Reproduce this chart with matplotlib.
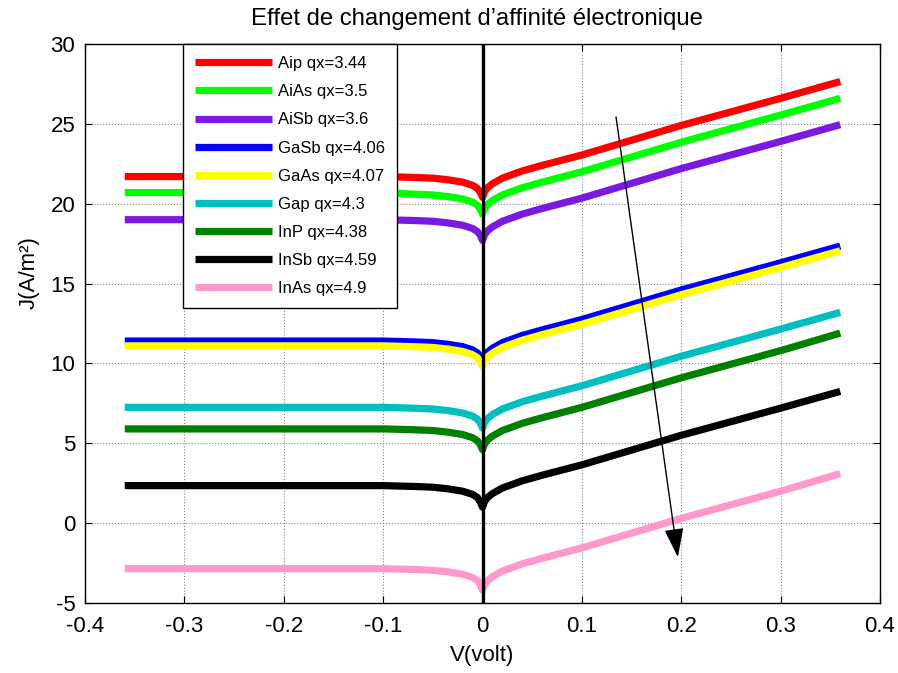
import matplotlib
matplotlib.use("Agg")
import matplotlib.pyplot as plt

plt.rcParams['font.family'] = ['Liberation Sans', 'DejaVu Sans']
plt.rcParams['axes.unicode_minus'] = False

# Voltage sample points (V)
V = [-0.36, -0.1, -0.07, -0.05, -0.035, -0.02, -0.01, -0.005, -0.002, 0.0,
     0.002, 0.005, 0.01, 0.02, 0.04, 0.06, 0.1, 0.2, 0.3, 0.36]

# Current density J (A/m²) per material
J_AlP  = [21.7, 21.7, 21.65, 21.6, 21.5, 21.35, 21.15, 20.95, 20.7, 20.4,
          20.75, 21.0, 21.25, 21.6, 22.05, 22.4, 23.05, 24.9, 26.6, 27.65]
J_AlAs = [20.7, 20.7, 20.6, 20.55, 20.45, 20.3, 20.1, 19.9, 19.65, 19.35,
          19.7, 19.95, 20.2, 20.55, 21.0, 21.35, 22.0, 23.85, 25.55, 26.6]
J_AlSb = [19.0, 19.0, 18.95, 18.9, 18.8, 18.65, 18.45, 18.25, 18.0, 17.7,
          18.05, 18.3, 18.55, 18.9, 19.35, 19.7, 20.35, 22.2, 23.9, 24.95]
J_GaSb = [11.4, 11.4, 11.35, 11.3, 11.2, 11.05, 10.85, 10.65, 10.4, 10.1,
          10.45, 10.7, 10.95, 11.3, 11.75, 12.1, 12.75, 14.6, 16.3, 17.35]
J_GaAs = [11.1, 11.1, 11.05, 11.0, 10.9, 10.75, 10.55, 10.35, 10.1, 9.8,
          10.15, 10.4, 10.65, 11.0, 11.45, 11.8, 12.45, 14.3, 16.0, 17.05]
J_GaP  = [7.25, 7.25, 7.2, 7.15, 7.05, 6.9, 6.7, 6.5, 6.25, 5.95,
          6.3, 6.55, 6.8, 7.15, 7.6, 7.95, 8.6, 10.45, 12.15, 13.2]
J_InP  = [5.9, 5.9, 5.85, 5.8, 5.7, 5.55, 5.35, 5.15, 4.9, 4.6,
          4.95, 5.2, 5.45, 5.8, 6.25, 6.6, 7.25, 9.1, 10.8, 11.9]
J_InSb = [2.35, 2.35, 2.3, 2.25, 2.15, 2.0, 1.8, 1.6, 1.3, 1.0,
          1.35, 1.6, 1.85, 2.2, 2.65, 3.0, 3.65, 5.5, 7.2, 8.25]
J_InAs = [-2.85, -2.85, -2.9, -2.95, -3.05, -3.2, -3.4, -3.6, -3.9, -4.2,
          -3.85, -3.6, -3.35, -3.0, -2.55, -2.2, -1.55, 0.3, 2.0, 3.1]

labels = ['Aip qx=3.44', 'AiAs qx=3.5', 'AiSb qx=3.6', 'GaSb qx=4.06',
          'GaAs qx=4.07', 'Gap qx=4.3', 'InP qx=4.38', 'InSb qx=4.59',
          'InAs qx=4.9']
series = [J_AlP, J_AlAs, J_AlSb, J_GaSb, J_GaAs, J_GaP, J_InP, J_InSb, J_InAs]
colors = ['#FF0000', '#00FF00', '#7A1AE0', '#0000FF', '#FFFF00',
          '#00BFBF', '#008000', '#000000', '#FF99CC']

xticks = [-0.4, -0.3, -0.2, -0.1, 0, 0.1, 0.2, 0.3, 0.4]
xticklabels = ['-0.4', '-0.3', '-0.2', '-0.1', '0', '0.1', '0.2', '0.3', '0.4']
yticks = [-5, 0, 5, 10, 15, 20, 25, 30]

fig = plt.figure(figsize=(8.98, 6.73), dpi=100)
ax = fig.add_axes([85/898, 1 - 603/673, 795/898, 559/673])

for J, c, lab in zip(series, colors, labels):
    ax.plot(V, J, color=c, lw=5.2, label=lab, solid_capstyle='butt')

ax.plot([0, 0], [-5, 30], color='k', lw=2.4, zorder=5)

ax.annotate('', xy=(0.197, -2.3), xytext=(0.134, 25.6),
            arrowprops=dict(arrowstyle='-|>,head_length=0.9,head_width=0.3',
                            lw=1, color='k', mutation_scale=20),
            zorder=6)

ax.set_xlim(-0.4, 0.4)
ax.set_ylim(-5, 30)
ax.set_xticks(xticks)
ax.set_xticklabels(xticklabels)
ax.set_yticks(yticks)
ax.tick_params(direction='in', length=5, width=0.8, top=True, right=True,
               labelsize=16)
ax.tick_params(axis='x', pad=9)
ax.tick_params(axis='y', pad=7)
ax.grid(True, linestyle=':', color='#888888', lw=0.8)
for s in ax.spines.values():
    s.set_linewidth(1.0)

fig.text(477 / 898, 1 - 19 / 673, 'Effet de changement d’affinité électronique',
         fontsize=17.2, ha='center', va='center')
ax.set_xlabel('V(volt)', fontsize=16, labelpad=6)
ax.set_ylabel('J(A/m²)', fontsize=16)
ax.yaxis.set_label_coords(-0.057, 0.592)

leg = ax.legend(loc='upper left', bbox_to_anchor=((183 - 85) / 795, 1.0),
                borderaxespad=0, fontsize=12, handlelength=4.6,
                handletextpad=0.35, labelspacing=0.79, borderpad=0.72,
                fancybox=False, framealpha=1, edgecolor='k')
leg.get_frame().set_linewidth(1.0)

fig.savefig('out.png', dpi=100)
